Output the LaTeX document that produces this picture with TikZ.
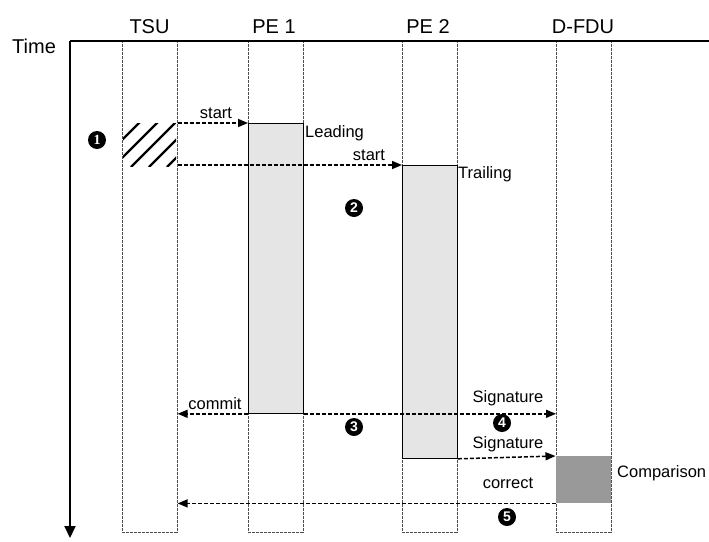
\documentclass[tikz,border=0pt]{standalone}
\usepackage{fontspec}
\setmainfont{Liberation Sans}
\newfontfamily\numserif{Liberation Serif}
\usetikzlibrary{arrows.meta}
\tikzset{
  lane/.style={draw=black!70, dash pattern=on 3pt off 1pt, line width=0.6pt, rectangle, inner sep=0pt, minimum width=55pt, minimum height=491pt, anchor=north west},
  runbox/.style={draw=black, line width=0.8pt, fill=black!10, rectangle, inner sep=0pt, minimum width=55pt, anchor=north west},
  cmpbox/.style={draw=none, fill=black!40, rectangle, inner sep=0pt, minimum width=55pt, anchor=north west},
  sig/.style={line width=1.5pt, dash pattern=on 4pt off 2pt, -{Triangle[length=10pt,width=8pt]}},
  big/.style={font=\fontsize{20}{24}\selectfont, inner sep=0pt},
  small/.style={font=\fontsize{16.5}{19}\selectfont, inner sep=0pt},
  num/.style={circle, fill=black, text=white, inner sep=0pt, minimum size=18pt, font=\bfseries\fontsize{14}{14}\selectfont},
}
\begin{document}
\begin{tikzpicture}[x=1pt, y=-1pt]
\useasboundingbox (0,0) rectangle (709,541);
% lanes
\node[lane] (tsu) at (122,41) {};
\node[lane] (pe1) at (248,41) {};
\node[lane] (pe2) at (402,41) {};
\node[lane] (dfdu) at (556,41) {};
% run boxes
\node[runbox, minimum height=290pt] (lead) at (248,123) {};
\node[runbox, minimum height=293pt] (trail) at (402,165) {};
\node[cmpbox, minimum height=47pt] (cmp) at (555.5,456) {};
% hatch
\begin{scope}
\clip (123,123) rectangle (176,166);
\foreach \c in {262,280,298,316,334}
  \draw[line width=2.2pt] ({\c-167},167) -- ({\c-122},122);
\end{scope}
% axes
\coordinate (origin) at (70,41);
\coordinate (tend) at (70,538);
\coordinate (rend) at (709,41);
\draw[line width=2.2pt] (rend) -- (origin);
\draw[line width=2pt, -{Triangle[length=12pt,width=11pt]}] (origin) -- (tend);
% headers
\node[big, anchor=base] (ltsu) at (149.5,33) {TSU};
\node[big, anchor=base] (lpe1) at (274,33) {PE 1};
\node[big, anchor=base] (lpe2) at (428,33) {PE 2};
\node[big, anchor=base] (ldfdu) at (583,33) {D-FDU};
\node[big, anchor=base west] (ltime) at (12,53) {Time};
% signals
\coordinate (s1) at (tsu.east |- lead.north);
\draw[sig] (s1) -- (lead.north west);
\coordinate (s2) at (tsu.east |- trail.north);
\draw[sig] (s2) -- (trail.north west);
\coordinate (c1) at (tsu.east |- lead.south);
\draw[sig] (lead.south west) -- (c1);
\coordinate (g1) at (dfdu.west |- lead.south);
\draw[sig] (lead.south east) -- (g1);
\draw[sig] (trail.south east) -- (cmp.north west);
\coordinate (k1) at (tsu.east |- cmp.south);
\draw[sig] (cmp.south west) -- (k1);
% labels
\node[small, anchor=base] (lstart1) at (216,118) {start};
\node[small, anchor=base west] (llead) at (305,137) {Leading};
\node[small, anchor=base] (lstart2) at (369,160) {start};
\node[small, anchor=base west] (ltrail) at (458,178) {Trailing};
\node[small, anchor=base] (lcommit) at (215,409) {commit};
\node[small, anchor=base] (lsig1) at (508,402) {Signature};
\node[small, anchor=base] (lsig2) at (508,448) {Signature};
\node[small, anchor=base] (lcorr) at (508,488) {correct};
\node[small, anchor=base west] (lcmp) at (617,477) {Comparison};
% numbers
\node[num, font=\bfseries\fontsize{14}{14}\selectfont\numserif] (n1) at (97,140) {1};
\node[num] (n2) at (354,208) {2};
\node[num] (n3) at (354,427) {3};
\node[num] (n4) at (502,423) {4};
\node[num] (n5) at (507,517) {5};
\end{tikzpicture}
\end{document}
